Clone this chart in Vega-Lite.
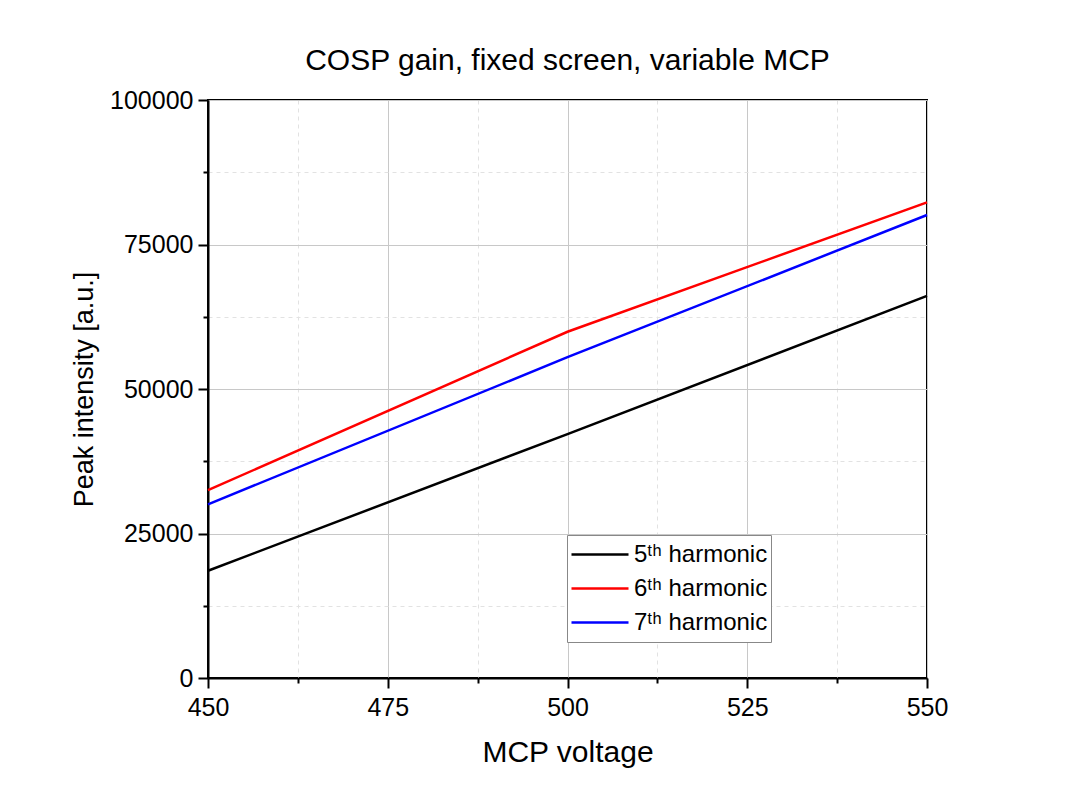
{
  "$schema": "https://vega.github.io/schema/vega-lite/v6.json",
  "autosize": "none",
  "padding": {"left": 208, "top": 100, "right": 162, "bottom": 130},
  "width": 719,
  "height": 578,
  "background": "white",
  "title": {
    "text": "COSP gain, fixed screen, variable MCP",
    "font": "Liberation Sans",
    "fontSize": 30,
    "fontWeight": "normal",
    "color": "black",
    "offset": 12
  },
  "config": {
    "font": "Liberation Sans",
    "view": {"stroke": "black", "strokeWidth": 2},
    "axis": {
      "labelFont": "Liberation Sans",
      "titleFont": "Liberation Sans",
      "labelColor": "black",
      "titleColor": "black",
      "titleFontWeight": "normal",
      "domainColor": "black",
      "domainWidth": 2,
      "tickColor": "black",
      "tickWidth": 2,
      "labelFlush": false,
      "labelOverlap": false
    },
    "legend": {
      "orient": "none", "legendX": 359, "legendY": 435,
      "title": null, "symbolType": "stroke", "symbolSize": 3250,
      "symbolStrokeWidth": 2.5, "labelFontSize": 24, "labelFont": "Liberation Sans",
      "labelColor": "black", "labelOffset": 4, "clipHeight": 33, "rowPadding": 1,
      "padding": 3, "strokeColor": "#888888", "fillColor": "white"
    }
  },
  "data": {
    "values": [
      {"v": 450, "y": 18560, "s": "5ᵗʰ harmonic"},
      {"v": 500, "y": 42200, "s": "5ᵗʰ harmonic"},
      {"v": 550, "y": 66100, "s": "5ᵗʰ harmonic"},
      {"v": 450, "y": 32500, "s": "6ᵗʰ harmonic"},
      {"v": 500, "y": 59900, "s": "6ᵗʰ harmonic"},
      {"v": 550, "y": 82300, "s": "6ᵗʰ harmonic"},
      {"v": 450, "y": 30050, "s": "7ᵗʰ harmonic"},
      {"v": 500, "y": 55500, "s": "7ᵗʰ harmonic"},
      {"v": 550, "y": 80100, "s": "7ᵗʰ harmonic"}
    ]
  },
  "resolve": {"axis": {"x": "independent", "y": "independent"}},
  "layer": [
    {
      "mark": {"type": "line", "strokeWidth": 1},
      "encoding": {
        "x": {
          "field": "v", "type": "quantitative",
          "scale": {"domain": [450, 550], "nice": false, "zero": false},
          "axis": {
            "orient": "bottom", "values": [462.5, 487.5, 512.5, 537.5],
            "labels": false, "title": null, "domain": false,
            "tickSize": 5, "grid": true, "gridColor": "#e2e2e2",
            "gridDash": [4, 4], "gridWidth": 1
          }
        },
        "y": {
          "field": "y", "type": "quantitative",
          "scale": {"domain": [0, 100000], "nice": false},
          "axis": {
            "orient": "left", "values": [12500, 37500, 62500, 87500],
            "labels": false, "title": null, "domain": false,
            "tickSize": 5, "grid": true, "gridColor": "#e2e2e2",
            "gridDash": [4, 4], "gridWidth": 1
          }
        },
        "color": {
          "field": "s", "type": "nominal",
          "scale": {
            "domain": ["5ᵗʰ harmonic", "6ᵗʰ harmonic", "7ᵗʰ harmonic"],
            "range": ["#000000", "#ff0000", "#0000ff"]
          }
        }
      }
    },
    {
      "mark": {"type": "line", "strokeWidth": 2.5},
      "encoding": {
        "x": {
          "field": "v", "type": "quantitative",
          "scale": {"domain": [450, 550], "nice": false, "zero": false},
          "axis": {
            "orient": "bottom", "values": [450, 475, 500, 525, 550],
            "title": "MCP voltage", "titleFontSize": 30, "titlePadding": 17,
            "labelFontSize": 25, "labelPadding": 7, "tickSize": 10,
            "grid": true, "gridColor": "#c8c8c8", "gridWidth": 1
          }
        },
        "y": {
          "field": "y", "type": "quantitative",
          "scale": {"domain": [0, 100000], "nice": false},
          "axis": {
            "orient": "left", "values": [0, 25000, 50000, 75000, 100000],
            "format": "d",
            "title": "Peak intensity [a.u.]", "titleFontSize": 27, "titlePadding": 11,
            "labelFontSize": 25, "labelPadding": 5, "tickSize": 10,
            "grid": true, "gridColor": "#c8c8c8", "gridWidth": 1
          }
        },
        "color": {
          "field": "s", "type": "nominal",
          "scale": {
            "domain": ["5ᵗʰ harmonic", "6ᵗʰ harmonic", "7ᵗʰ harmonic"],
            "range": ["#000000", "#ff0000", "#0000ff"]
          }
        }
      }
    }
  ]
}
